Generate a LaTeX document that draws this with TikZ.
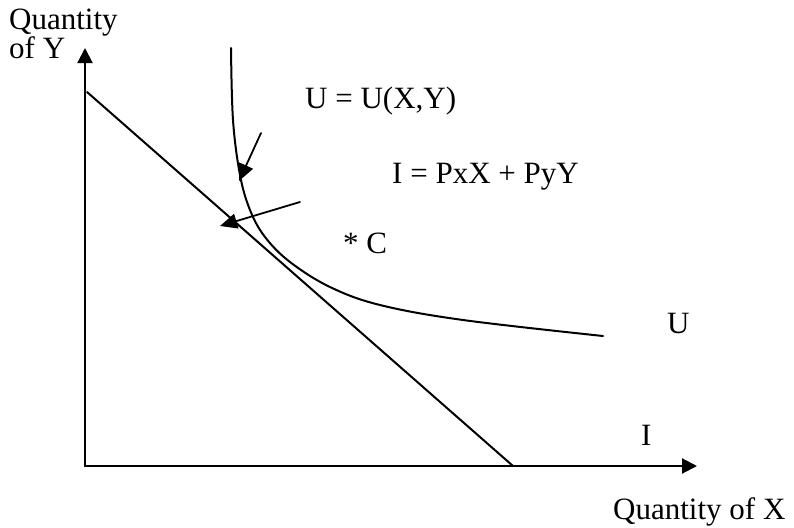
\documentclass[tikz,border=0pt]{standalone}
\usepackage{fontspec}
\setmainfont{Liberation Serif}
\usetikzlibrary{arrows.meta}

\begin{document}
\begin{tikzpicture}[x=1pt, y=-1pt, line cap=round, line join=round]

% ---------------- styles ----------------
\tikzset{
  econAxis/.style  ={draw, line width=2pt, -{Triangle[length=15pt, width=15pt]}},
  econLine/.style  ={draw, line width=2pt},
  econPoint/.style ={draw, line width=1.8pt, -{Triangle[length=17pt, width=15pt]}},
  econText/.style  ={inner sep=0pt, anchor=base west, font=\fontsize{31}{27}\selectfont}
}

\useasboundingbox (0,0) rectangle (794,527);

% ---------------- parameters ----------------
\def\Ox{85}      % origin x
\def\Oy{466}     % origin y

% ---------------- axes ----------------
\coordinate (origin) at (\Ox,\Oy);
\coordinate (yTip)   at (\Ox,48);
\coordinate (xTip)   at (697,\Oy);
\path[econAxis] (origin) -- (yTip);
\path[econAxis] (origin) -- (xTip);

% ---------------- budget line I ----------------
\coordinate (budgetTop) at (87,92);
\coordinate (budgetBot) at (513,\Oy);
\path[econLine] (budgetTop) -- (budgetBot);

% ---------------- indifference curve U ----------------
\draw[line width=2pt] plot[smooth, tension=0.6] coordinates {
  (231,48) (233,120) (240,175) (250,210) (265,237) (290,262)
  (330,287) (380,305) (463,320) (603,336)};

% ---------------- pointers ----------------
\coordinate (ptrUfrom) at (261,133);
\coordinate (ptrUto)   at (239,181);
\coordinate (ptrIfrom) at (300,202);
\coordinate (ptrIto)   at (220,226);
\path[econPoint] (ptrUfrom) -- (ptrUto);
\path[econPoint] (ptrIfrom) -- (ptrIto);

% ---------------- labels ----------------
\node[econText] (yLabelA) at (9,30) {Quantity};
\node[econText] (yLabelB) at (9,59) {of Y};
\node[econText] (xLabel) at (613,519) {Quantity of X};
\node[econText] (utilEq) at (305,108) {U = U(X,Y)};
\node[econText] (budgetEq) at (392,183) {I = PxX + PyY};
\node[econText] (pointC) at (343,253) {* C};
\node[econText] (uLabel) at (667,333) {U};
\node[econText] (iLabel) at (641,445) {I};

\end{tikzpicture}
\end{document}
